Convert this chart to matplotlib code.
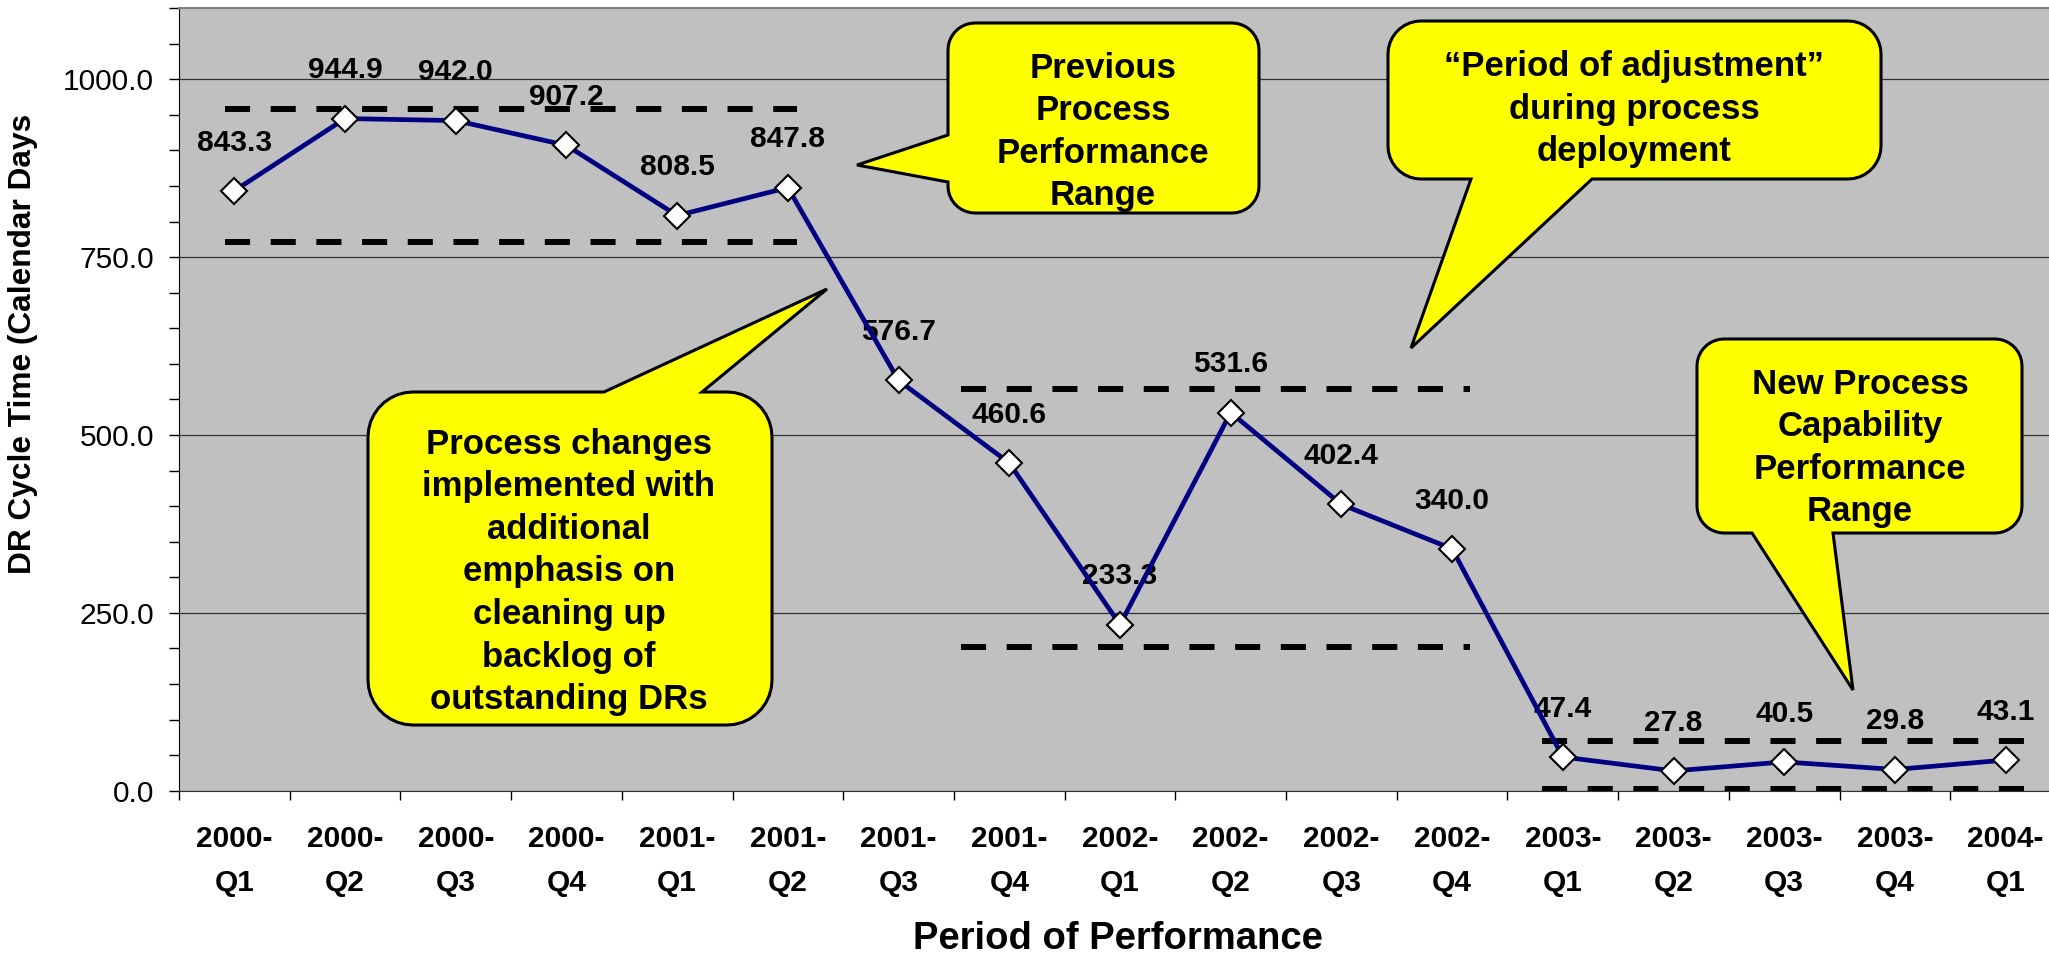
import numpy as np
import matplotlib.pyplot as plt
from matplotlib.patches import Polygon
from matplotlib.ticker import MultipleLocator
from matplotlib.transforms import Affine2D

plt.rcParams['font.family'] = ['Liberation Sans', 'DejaVu Sans']

# chart data
periods = ['2000-\nQ1', '2000-\nQ2', '2000-\nQ3', '2000-\nQ4',
           '2001-\nQ1', '2001-\nQ2', '2001-\nQ3', '2001-\nQ4',
           '2002-\nQ1', '2002-\nQ2', '2002-\nQ3', '2002-\nQ4',
           '2003-\nQ1', '2003-\nQ2', '2003-\nQ3', '2003-\nQ4', '2004-\nQ1']
cycle_days = [843.3, 944.9, 942.0, 907.2, 808.5, 847.8, 576.7, 460.6,
              233.3, 531.6, 402.4, 340.0, 47.4, 27.8, 40.5, 29.8, 43.1]
y_ticks = [0, 250, 500, 750, 1000]

# performance range bands (dashed lines), span given in category units
band_start = [-0.08, 6.56, 11.81]
band_end = [5.08, 11.16, 16.22]
band_upper = [958.3, 564.7, 69.9]
band_lower = [770.9, 201.6, 2.4]

callout_texts = [
    'Previous\nProcess\nPerformance\nRange',
    'Process changes\nimplemented with\nadditional\nemphasis on\ncleaning up\nbacklog of\noutstanding DRs',
    '\u201cPeriod of adjustment\u201d\nduring process\ndeployment',
    'New Process\nCapability\nPerformance\nRange',
]

# callout layout in canvas pixels (y down): box, corner radius, pointer side, pointer base, tip, text centre
W, H = 2049, 971
callout_layout = [
    dict(box=(948, 23, 1259, 213), r=27, side='left', base=(135, 182), tip=(857, 165), centre=(1103, 132)),
    dict(box=(368, 392, 772, 725), r=45, side='top', base=(604, 702), tip=(827, 289), centre=(569, 572)),
    dict(box=(1388, 21, 1881, 179), r=33, side='bottom', base=(1471, 1592), tip=(1411, 348), centre=(1634, 109)),
    dict(box=(1697, 339, 2022, 533), r=27, side='bottom', base=(1752, 1833), tip=(1853, 690), centre=(1860, 448)),
]


def callout_outline(box, r, side, base, tip):
    x0, y0, x1, y1 = box
    pts = []

    def arc(cx, cy, a0, a1):
        for a in np.radians(np.linspace(a0, a1, 10)):
            pts.append((cx + r * np.cos(a), cy + r * np.sin(a)))

    arc(x0 + r, y0 + r, 180, 270)
    if side == 'top':
        pts.extend([(base[0], y0), tip, (base[1], y0)])
    arc(x1 - r, y0 + r, 270, 360)
    arc(x1 - r, y1 - r, 0, 90)
    if side == 'bottom':
        pts.extend([(base[1], y1), tip, (base[0], y1)])
    arc(x0 + r, y1 - r, 90, 180)
    if side == 'left':
        pts.extend([(x0, base[1]), tip, (x0, base[0])])
    return pts


fig = plt.figure(figsize=(W / 100, H / 100), dpi=100)
ax = fig.add_axes([179 / W, 1 - 790.7 / H, (2061 - 179) / W, (790.7 - 8.2) / H])
ax.set_facecolor('#C0C0C0')
px = Affine2D().scale(1 / W, -1 / H).translate(0, 1) + fig.transFigure

x = np.arange(len(cycle_days))

# dashed performance ranges
for s, e, up, lo in zip(band_start, band_end, band_upper, band_lower):
    for yv in (up, lo):
        ax.plot([s, e], [yv, yv], color='black', lw=4.3, dashes=(4.2, 3.45),
                dash_capstyle='butt', zorder=2)

ax.plot(x, cycle_days, color='#000080', lw=3.4, marker='D', ms=13.5,
        mfc='white', mec='black', mew=1.5, zorder=3)

for i, v in enumerate(cycle_days):
    ax.annotate(f'{v:.1f}', (i, v), xytext=(0, 29), textcoords='offset points',
                ha='center', va='baseline', fontsize=21.5, fontweight='bold', zorder=2.5)

# axes styling
ax.set_xlim(-0.5, len(cycle_days) - 0.5)
ax.set_ylim(0, 1100)
ax.set_yticks(y_ticks)
ax.set_yticklabels([f'{v:.1f}' for v in y_ticks])
ax.yaxis.set_minor_locator(MultipleLocator(50))
ax.tick_params(axis='y', which='both', length=7, width=1, direction='out',
               labelsize=21.5, pad=11)
ax.grid(axis='y', which='major', color='#333333', lw=0.9)
ax.set_axisbelow(True)

ax.set_xticks(np.arange(-0.5, len(cycle_days), 1))
ax.set_xticks(x, labels=periods, minor=True)
ax.tick_params(axis='x', which='major', length=6.7, width=1, labelbottom=False)
ax.tick_params(axis='x', which='minor', length=0, pad=24.8, labelsize=21.5)
for t in ax.get_xticklabels(minor=True):
    t.set_fontweight('bold')
    t.set_linespacing(1.71)

ax.spines['top'].set_color('#808080')
ax.spines['top'].set_linewidth(1.5)
ax.spines['right'].set_visible(False)
ax.spines['left'].set_color('black')
ax.spines['bottom'].set_color('#333333')

fig.text(23.5, 344, 'DR Cycle Time (Calendar Days', transform=px, rotation=90,
         ha='center', va='center', fontsize=22.8, fontweight='bold')
fig.text(1118, 939, 'Period of Performance', transform=px,
         ha='center', va='center', fontsize=27.5, fontweight='bold')

# yellow callouts
for txt, lay in zip(callout_texts, callout_layout):
    outline = callout_outline(lay['box'], lay['r'], lay['side'], lay['base'], lay['tip'])
    fig.add_artist(Polygon(outline, closed=True, facecolor='#FFFF00', edgecolor='black',
                           lw=2.2, joinstyle='miter', transform=px, zorder=5))
    fig.text(lay['centre'][0], lay['centre'][1], txt, transform=px, ha='center', va='center',
             multialignment='center', fontsize=25, fontweight='bold', linespacing=1.37, zorder=6)

fig.savefig('out.png', dpi=100)
